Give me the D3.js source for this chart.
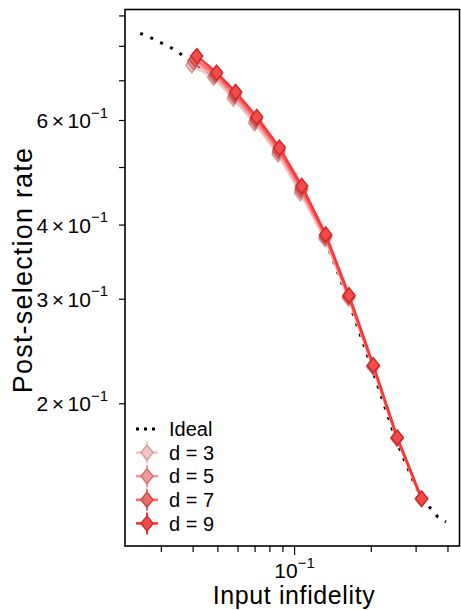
<!DOCTYPE html>
<html>
<head>
<meta charset="utf-8">
<script src="https://cdn.jsdelivr.net/npm/d3@7"></script>
<style>
  body { margin: 0; background: #fff; }
  text { font-family: "Liberation Sans", Arial, Helvetica, sans-serif; fill: #000; }
</style>
</head>
<body>
<div id="chart"></div>
<script>
// data

// ideal curve (sampled along the dotted line)
var idealX = [0.02489, 0.02774, 0.03037, 0.03323, 0.03604, 0.03875, 0.04281, 0.04901, 0.05924, 0.07161,
  0.08735, 0.1065, 0.1323, 0.1628, 0.2022, 0.2512, 0.3008, 0.3234, 0.3445, 0.3670, 0.3946];
var idealY = [0.8398, 0.8236, 0.8078, 0.7923, 0.7740, 0.7562, 0.7360, 0.7053, 0.6552, 0.5970,
  0.5315, 0.4568, 0.3780, 0.2995, 0.2292, 0.1734, 0.1445, 0.1379, 0.1327, 0.1286, 0.1262];

// code distances
var distances = [3, 5, 7, 9];

var infidelityD3 = [0.03971, 0.04826, 0.05781, 0.07001, 0.08656, 0.1060, 0.1323, 0.1635, 0.2041, 0.2534, 0.3162];
var rateD3 = [0.7417, 0.7081, 0.6519, 0.5925, 0.5254, 0.4516, 0.3780, 0.3006, 0.2301, 0.1744, 0.1379];

var infidelityD5 = [0.04034, 0.04879, 0.05825, 0.07050, 0.08692, 0.1064, 0.1326, 0.1638, 0.2043, 0.2537, 0.3164];
var rateD5 = [0.7513, 0.7124, 0.6578, 0.5976, 0.5302, 0.4560, 0.3804, 0.3018, 0.2307, 0.1747, 0.1380];

var infidelityD7 = [0.04088, 0.04925, 0.05863, 0.07092, 0.08722, 0.1068, 0.1329, 0.1641, 0.2045, 0.2539, 0.3166];
var rateD7 = [0.7592, 0.7165, 0.6628, 0.6021, 0.5343, 0.4600, 0.3824, 0.3029, 0.2312, 0.1749, 0.1381];

var infidelityD9 = [0.0415, 0.0497, 0.0590, 0.0714, 0.0876, 0.1072, 0.1331, 0.1643, 0.2046, 0.2541, 0.3168];
var rateD9 = [0.7688, 0.7211, 0.6688, 0.6072, 0.5391, 0.4646, 0.3849, 0.3041, 0.2319, 0.1751, 0.1382];

// ticks
var xMajorTicks = [0.1];
var xMinorTicks = [0.03, 0.04, 0.05, 0.06, 0.07, 0.08, 0.09, 0.2, 0.3, 0.4];
var yMajorTicks = [0.2, 0.3, 0.4, 0.6];
var yMinorTicks = [0.5, 0.7, 0.8, 0.9];

// set svg area and margins
var svgWidth = 461;
var svgHeight = 610;

var margin = {
  top: 9.5,
  right: 1,
  bottom: 64,
  left: 125
};

var width = svgWidth - margin.left - margin.right;
var height = svgHeight - margin.top - margin.bottom;

var svg = d3.select("#chart")
  .append("svg")
  .attr("width", svgWidth)
  .attr("height", svgHeight);

var chartGroup = svg.append("g")
  .attr("transform", `translate(${margin.left}, ${margin.top})`);

// log scales
var xLogScale = d3.scaleLog()
  .domain([0.0217, 0.448])
  .range([0, width]);

var yLogScale = d3.scaleLog()
  .domain([0.115, 0.921])
  .range([height, 0]);

var plotArea = chartGroup.append("g");

plotArea.append("clipPath")
  .attr("id", "clip")
  .append("rect")
  .attr("width", width)
  .attr("height", height);

var lineGen = d3.line()
  .x(d => xLogScale(d[0]))
  .y(d => yLogScale(d[1]));

// ideal dotted line
var idealData = idealX.map((v, i) => [v, idealY[i]]);
plotArea.append("path")
  .attr("clip-path", "url(#clip)")
  .attr("d", lineGen(idealData))
  .attr("fill", "none")
  .attr("stroke", "#000")
  .attr("stroke-width", 3)
  .attr("stroke-dasharray", "3,8");

var seriesStyle = [
  { line: "#f6c3c3", fill: "#f2c4c4", edge: "#cf9a9a" },
  { line: "#f59c9c", fill: "#ee9a9a", edge: "#cf7272" },
  { line: "#f66a6a", fill: "#ee6c6c", edge: "#cc4848" },
  { line: "#ff3535", fill: "#f24c4c", edge: "#cc2a2a" }
];
var seriesX = [infidelityD3, infidelityD5, infidelityD7, infidelityD9];
var seriesY = [rateD3, rateD5, rateD7, rateD9];

var diamond = "M0,-7.5L6,0L0,7.5L-6,0Z";

distances.forEach(function(dist, s) {
  var pts = seriesX[s].map((v, i) => [v, seriesY[s][i]]);
  var st = seriesStyle[s];

  plotArea.append("path")
    .attr("d", lineGen(pts))
    .attr("fill", "none")
    .attr("stroke", st.line)
    .attr("stroke-width", 2.6);

  plotArea.selectAll(".m" + dist)
    .data(pts)
    .enter()
    .append("path")
    .attr("class", "m" + dist)
    .attr("d", diamond)
    .attr("transform", d => `translate(${xLogScale(d[0])}, ${yLogScale(d[1])})`)
    .attr("fill", st.fill)
    .attr("stroke", st.edge)
    .attr("stroke-width", 1.5);
});

// axes
function styleAxis(g) {
  g.select(".domain").remove();
  g.selectAll(".tick line").attr("stroke", "#000").attr("stroke-width", 1.2);
}

chartGroup.append("g")
  .attr("transform", `translate(0, ${height})`)
  .call(d3.axisBottom(xLogScale).tickValues(xMinorTicks).tickSize(6).tickFormat(""))
  .call(styleAxis);

var xMajor = chartGroup.append("g")
  .attr("transform", `translate(0, ${height})`)
  .call(d3.axisBottom(xLogScale).tickValues(xMajorTicks).tickSize(9).tickPadding(4).tickFormat(""))
  .call(styleAxis);

xMajor.selectAll(".tick text")
  .each(function(d) {
    var t = d3.select(this)
      .attr("font-size", 21)
      .attr("dy", "0.92em");
    t.append("tspan").text("10");
    t.append("tspan").attr("font-size", 15).attr("dy", "-0.7em").text("\u22121");
  });

chartGroup.append("g")
  .call(d3.axisLeft(yLogScale).tickValues(yMinorTicks).tickSize(6).tickFormat(""))
  .call(styleAxis);

var yMajor = chartGroup.append("g")
  .call(d3.axisLeft(yLogScale).tickValues(yMajorTicks).tickSize(6).tickPadding(11).tickFormat(""))
  .call(styleAxis);

yMajor.selectAll(".tick text")
  .each(function(d) {
    var mant = Math.round(d * 10);
    var t = d3.select(this)
      .attr("font-size", 21)
      .attr("dy", "0.36em");
    t.append("tspan").text(mant);
    t.append("tspan").attr("dx", 3.5).text("\u00d7");
    t.append("tspan").attr("dx", 3.5).text("10");
    t.append("tspan").attr("font-size", 15).attr("dy", "-0.7em").text("\u22121");
  });

// frame
chartGroup.append("rect")
  .attr("width", width - 0.5)
  .attr("height", height)
  .attr("fill", "none")
  .attr("stroke", "#000")
  .attr("stroke-width", 1.6);

// axis labels
chartGroup.append("text")
  .attr("transform", "rotate(-90)")
  .attr("x", -(270 - margin.top))
  .attr("y", -margin.left + 32)
  .style("text-anchor", "middle")
  .style("letter-spacing", "1.2px")
  .attr("font-size", 27)
  .text("Post-selection rate");

chartGroup.append("text")
  .attr("x", xLogScale(0.1))
  .attr("y", height + 58)
  .style("text-anchor", "middle")
  .style("letter-spacing", "0.6px")
  .attr("font-size", 25)
  .text("Input infidelity");

// legend
var legendItems = ["Ideal"].concat(distances.map(d => "d = " + d));
var legend = svg.append("g")
  .attr("transform", "translate(136, 429)");

legendItems.forEach(function(label, i) {
  var row = legend.append("g").attr("transform", `translate(0, ${i * 23.6})`);
  if (i === 0) {
    row.append("line")
      .attr("x1", 0).attr("x2", 22)
      .attr("stroke", "#000")
      .attr("stroke-width", 3)
      .attr("stroke-dasharray", "3,5");
  } else {
    var st = seriesStyle[i - 1];
    row.append("line")
      .attr("x1", 0).attr("x2", 22)
      .attr("stroke", st.line)
      .attr("stroke-width", 2.6);
    row.append("line")
      .attr("x1", 11).attr("x2", 11)
      .attr("y1", -11).attr("y2", 11)
      .attr("stroke", st.line)
      .attr("stroke-width", 2);
    row.append("path")
      .attr("d", diamond)
      .attr("transform", "translate(11, 0)")
      .attr("fill", st.fill)
      .attr("stroke", st.edge)
      .attr("stroke-width", 1.5);
  }
  row.append("text")
    .attr("x", 33)
    .attr("dy", "0.36em")
    .attr("font-size", 20)
    .text(label);
});
</script>
</body>
</html>
